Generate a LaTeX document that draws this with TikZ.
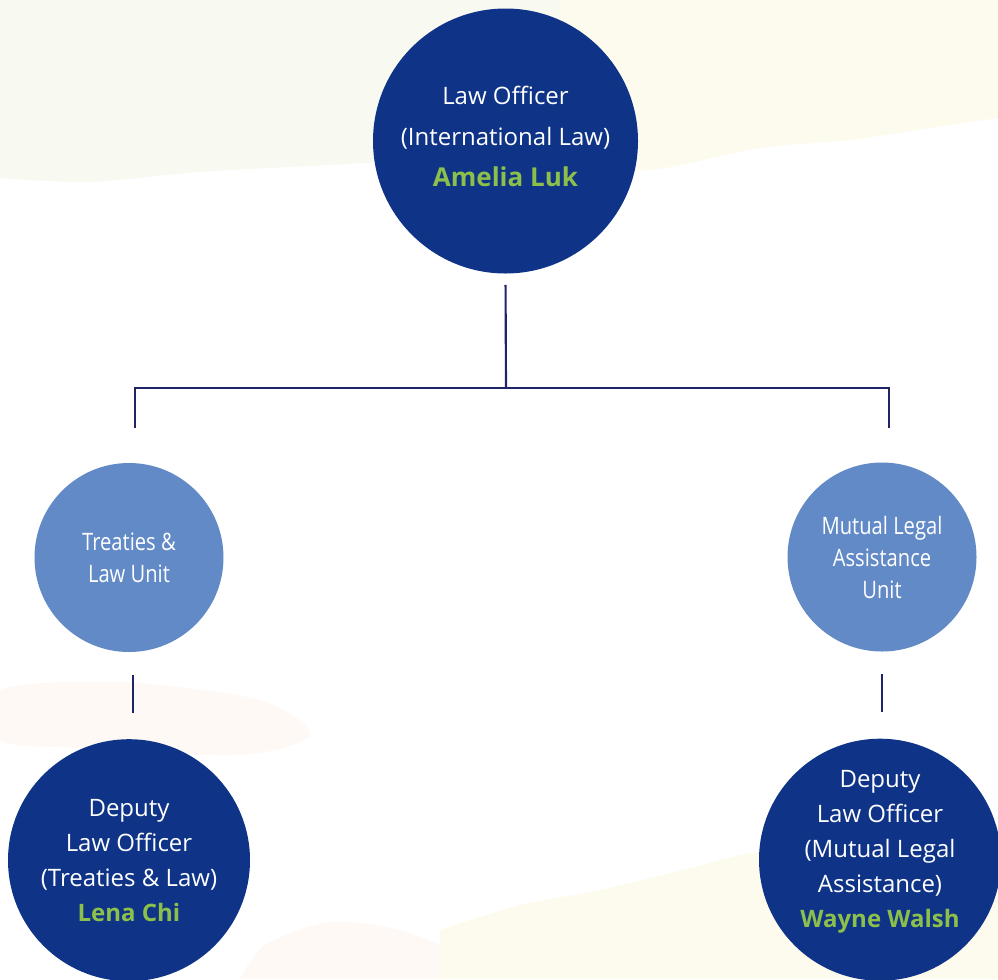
\documentclass[tikz,border=0pt]{standalone}
\usepackage{fontspec}
\setmainfont{Open Sans}
\newfontfamily\condfont[FakeStretch=0.84]{Open Sans}
\usetikzlibrary{positioning}
\definecolor{navy}{HTML}{0E3387}
\definecolor{unitblue}{HTML}{628AC6}
\definecolor{leafgreen}{HTML}{8DC04A}
\definecolor{linkcol}{HTML}{1F2468}
\definecolor{washgreen}{HTML}{F8F9F1}
\definecolor{washcream}{HTML}{FDFBEE}
\definecolor{washpeach}{HTML}{FEF9F5}
\newcommand{\who}[1]{\textbf{\color{leafgreen}#1}}

\begin{document}
\begin{tikzpicture}[
    x=0.75pt, y=-0.75pt,
    node distance=65pt,
    officer/.style={ circle,
      fill=navy,
      inner sep=0pt,
      minimum size=181.5pt},
    unit/.style={ circle,
      fill=unitblue,
      text=white,
      align=center,
      inner sep=0pt,
      font=\condfont\fontsize{18}{24}\selectfont,
      minimum size=141.75pt},
    caption/.style={text=white, align=center, font=\fontsize{18}{26.25}\selectfont},
    link/.style={draw=linkcol, line width=1.6pt}]
    \useasboundingbox (0,0) rectangle (998,979);
    \clip (0,0) rectangle (998,979);

    % faint wash behind the chart
    \fill[washgreen] (0,0) -- plot[smooth] coordinates {(0,178) (90,182) (200,172) (330,165) (470,158) (560,165)} -- (560,0) -- cycle;
    \fill[washcream] (560,0) -- plot[smooth] coordinates {(560,165) (650,170) (760,148) (850,140) (930,128) (998,118)} -- (998,0) -- cycle;
    \fill[washpeach] plot[smooth cycle] coordinates {(0,690) (120,682) (260,700) (310,735) (240,755) (80,748) (0,740)};
    \fill[washpeach] plot[smooth] coordinates {(240,979) (265,945) (330,922) (400,930) (460,955) (470,979)} -- cycle;
    \fill[washcream] (440,979) -- plot[smooth] coordinates {(440,930) (520,905) (600,890) (690,868) (760,852) (850,855) (998,850)} -- (998,979) -- cycle;

    \node[officer, minimum size=198.75pt,
      label={[caption, font=\fontsize{18}{30.75}\selectfont, yshift=3.75pt]center:{Law Officer\\(International Law)\\{\fontsize{19.5}{30.75}\selectfont\who{Amelia Luk}}}}]
      (LO) at (505.5,141) {};
    \node[unit] (TLU) at (129,557.5) {Treaties \&\\Law Unit};
    \node[unit] (MLA) at (882,557) {Mutual Legal\\Assistance\\Unit};
    \node[officer, below=of TLU,
      label={[caption]center:{Deputy\\Law Officer\\(Treaties \& Law)\\\who{Lena Chi}}}] (DTL) {};
    \node[officer, below=of MLA, xshift=-1.5pt,
      label={[caption, yshift=6pt]center:{Deputy\\Law Officer\\(Mutual Legal\\Assistance)\\\who{Wayne Walsh}}}] (DMLA) {};

    \coordinate (bus) at (506,388);
    \coordinate (TLUtop) at (135,428);
    \coordinate (MLAtop) at (889,428);

    \draw[link, shorten <=8.25pt] (LO.south) -- (bus);
    \draw[link] (TLUtop) |- (bus) -| (MLAtop);
    \draw[link, shorten <=17pt, shorten >=19.5pt] ([xshift=3pt]TLU.south) -- ([xshift=3pt]DTL.north);
    \draw[link, shorten <=17pt, shorten >=19.5pt] (MLA.south) -- (MLA.south |- DMLA.north);
\end{tikzpicture}
\end{document}
